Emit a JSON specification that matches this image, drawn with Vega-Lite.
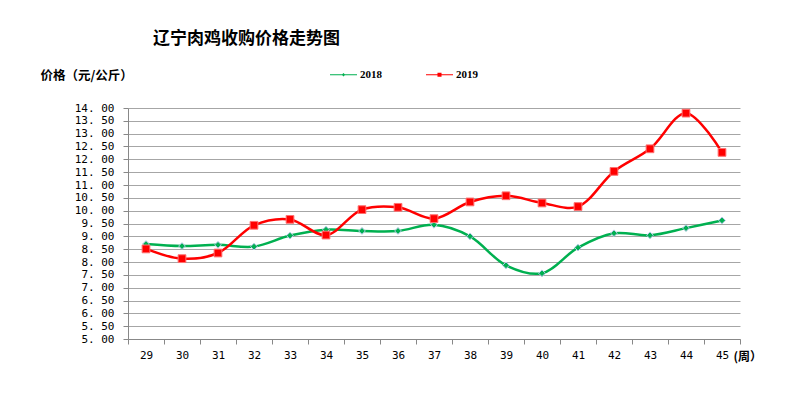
{
  "$schema": "https://vega.github.io/schema/vega-lite/v6.json",
  "width": 612,
  "height": 231,
  "autosize": {"type": "none"},
  "padding": {"left": 128, "top": 108, "right": 53, "bottom": 59},
  "background": "white",
  "config": {"view": {"stroke": null}},
  "title": {
    "text": "辽宁肉鸡收购价格走势图",
    "anchor": "start",
    "dx": 113,
    "offset": 13,
    "font": "Noto Sans CJK SC",
    "fontSize": 17,
    "fontWeight": "bold",
    "color": "#000000"
  },
  "data": {
    "values": [
      {"week": "29", "year": "2018", "price": 8.70},
      {"week": "30", "year": "2018", "price": 8.62},
      {"week": "31", "year": "2018", "price": 8.67},
      {"week": "32", "year": "2018", "price": 8.60},
      {"week": "33", "year": "2018", "price": 9.03},
      {"week": "34", "year": "2018", "price": 9.26},
      {"week": "35", "year": "2018", "price": 9.21},
      {"week": "36", "year": "2018", "price": 9.21},
      {"week": "37", "year": "2018", "price": 9.45},
      {"week": "38", "year": "2018", "price": 9.00},
      {"week": "39", "year": "2018", "price": 7.87},
      {"week": "40", "year": "2018", "price": 7.56},
      {"week": "41", "year": "2018", "price": 8.56},
      {"week": "42", "year": "2018", "price": 9.12},
      {"week": "43", "year": "2018", "price": 9.04},
      {"week": "44", "year": "2018", "price": 9.32},
      {"week": "45", "year": "2018", "price": 9.62},
      {"week": "29", "year": "2019", "price": 8.51},
      {"week": "30", "year": "2019", "price": 8.13},
      {"week": "31", "year": "2019", "price": 8.35},
      {"week": "32", "year": "2019", "price": 9.43},
      {"week": "33", "year": "2019", "price": 9.66},
      {"week": "34", "year": "2019", "price": 9.05},
      {"week": "35", "year": "2019", "price": 10.04},
      {"week": "36", "year": "2019", "price": 10.13},
      {"week": "37", "year": "2019", "price": 9.69},
      {"week": "38", "year": "2019", "price": 10.34},
      {"week": "39", "year": "2019", "price": 10.58},
      {"week": "40", "year": "2019", "price": 10.30},
      {"week": "41", "year": "2019", "price": 10.16},
      {"week": "42", "year": "2019", "price": 11.53},
      {"week": "43", "year": "2019", "price": 12.41},
      {"week": "44", "year": "2019", "price": 13.80},
      {"week": "45", "year": "2019", "price": 12.27}
    ]
  },
  "encoding": {
    "x": {
      "field": "week",
      "type": "ordinal",
      "scale": {"type": "band", "paddingInner": 0, "paddingOuter": 0},
      "axis": {
        "title": "(周）",
        "titleX": 605,
        "titleY": 17,
        "titleAlign": "left",
        "titleBaseline": "middle",
        "titleFont": "Noto Sans CJK SC",
        "titleFontSize": 12,
        "titleFontWeight": "bold",
        "titleColor": "#000000",
        "labelAngle": 0,
        "labelFont": "DejaVu Sans Mono",
        "labelFontSize": 11,
        "labelColor": "#000000",
        "labelPadding": 5,
        "tickBand": "extent",
        "tickSize": 5,
        "tickColor": "#888888",
        "domainColor": "#888888",
        "grid": false
      }
    },
    "y": {
      "field": "price",
      "type": "quantitative",
      "scale": {"domain": [5, 14], "nice": false, "zero": false},
      "axis": {
        "title": "价格（元/公斤）",
        "titleAngle": 0,
        "titleX": -88,
        "titleY": -33,
        "titleAlign": "left",
        "titleBaseline": "middle",
        "titleFont": "Noto Sans CJK SC",
        "titleFontSize": 12.5,
        "titleFontWeight": "bold",
        "titleColor": "#000000",
        "values": [5, 5.5, 6, 6.5, 7, 7.5, 8, 8.5, 9, 9.5, 10, 10.5, 11, 11.5, 12, 12.5, 13, 13.5, 14],
        "labelExpr": "replace(format(datum.value, '.2f'), '.', '. ')",
        "labelFont": "DejaVu Sans Mono",
        "labelFontSize": 11,
        "labelColor": "#000000",
        "labelPadding": 9,
        "tickSize": 5,
        "tickColor": "#888888",
        "domainColor": "#888888",
        "grid": true,
        "gridColor": "#a6a6a6",
        "gridWidth": 1
      }
    },
    "color": {
      "field": "year",
      "type": "nominal",
      "scale": {"domain": ["2018", "2019"], "range": ["#00b050", "#ff0000"]},
      "legend": {
        "title": null,
        "orient": "none",
        "legendX": 202,
        "legendY": -47,
        "direction": "horizontal",
        "symbolSize": 729,
        "labelFont": "Liberation Serif",
        "labelFontSize": 11,
        "labelFontWeight": "bold",
        "labelColor": "#000000",
        "labelOffset": 3,
        "columnPadding": 44,
        "encode": {
          "symbols": {
            "update": {
              "shape": {"signal": "datum.value == '2018' ? 'M-1,-0.045H1V0.045H-1Z M0,-0.13L0.13,0L0,0.13L-0.13,0Z' : 'M-1,-0.045H1V0.045H-1Z M-0.15,-0.15H0.15V0.15H-0.15Z'"},
              "fill": {"signal": "datum.value == '2018' ? '#00b050' : '#ff0000'"},
              "stroke": {"value": "transparent"},
              "strokeWidth": {"value": 0},
              "fillOpacity": {"value": 1},
              "opacity": {"value": 1}
            }
          }
        }
      }
    }
  },
  "layer": [
    {
      "mark": {"type": "line", "interpolate": "catmull-rom", "strokeWidth": 2.5},
      "encoding": {"detail": {"field": "year"}}
    },
    {
      "transform": [{"filter": "datum.year == '2018'"}],
      "mark": {"type": "point", "shape": "diamond", "filled": true, "opacity": 1, "strokeWidth": 1, "stroke": "#b4c7e7", "size": 45}
    },
    {
      "transform": [{"filter": "datum.year == '2019'"}],
      "mark": {"type": "point", "shape": "square", "filled": true, "opacity": 1, "strokeWidth": 1, "stroke": "#ff7070", "size": 60}
    }
  ]
}
